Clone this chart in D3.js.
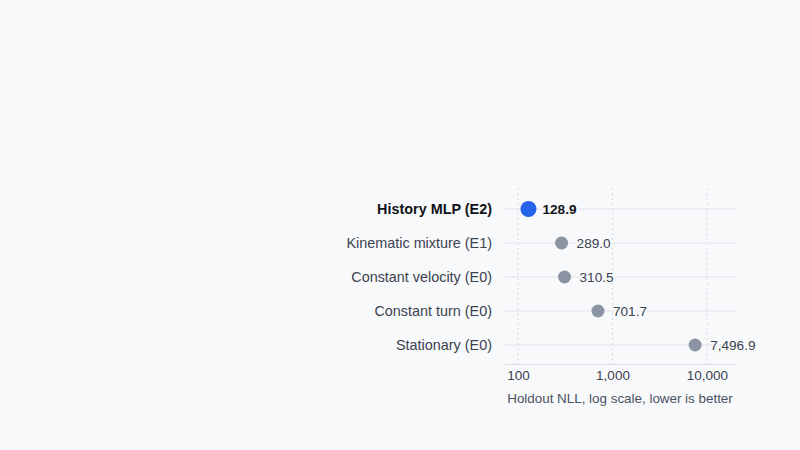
<!DOCTYPE html>
<html>
<head>
<meta charset="utf-8">
<script src="https://cdn.jsdelivr.net/npm/d3@7"></script>
<style>
  html, body { margin: 0; padding: 0; background: #f8f9fb; }
  svg { display: block; font-family: "Liberation Sans", Arial, sans-serif; }
</style>
</head>
<body>
<div id="chart"></div>
<script>
// Holdout NLL per model, log scale

// data
var models = ["History MLP (E2)", "Kinematic mixture (E1)", "Constant velocity (E0)", "Constant turn (E0)", "Stationary (E0)"];
var nllValues = [128.9, 289.0, 310.5, 701.7, 7496.9];
var highlighted = [true, false, false, false, false];
var tickValues = [100, 1000, 10000];
var axisTitle = "Holdout NLL, log scale, lower is better";

// global variables
var width = 800;
var height = 450;
var margin = { top: 192, right: 64, bottom: 86, left: 504 };
var axisY = 364;
var bg = "#f8f9fb";

var rows = models.map(function(m, i) {
    return { name: m, value: nllValues[i], hi: highlighted[i] };
});

var svg = d3.select("#chart")
            .append("svg")
            .attr("width", width)
            .attr("height", height);

svg.append("rect").attr("width", width).attr("height", height).attr("fill", bg);

var x = d3.scaleLog()
          .domain([71, 20300])
          .range([margin.left, width - margin.right]);

var y = d3.scalePoint()
          .domain(models)
          .range([margin.top, 362])
          .padding(0.5);

// vertical dotted gridlines
svg.selectAll(".vgrid")
   .data(tickValues)
   .enter()
   .append("line")
   .attr("class", "vgrid")
   .attr("x1", function(d) { return x(d); })
   .attr("x2", function(d) { return x(d); })
   .attr("y1", 188)
   .attr("y2", axisY)
   .attr("stroke", "#d4d8de")
   .attr("stroke-dasharray", "2,3");

// row lines
svg.selectAll(".hgrid")
   .data(rows)
   .enter()
   .append("line")
   .attr("class", "hgrid")
   .attr("x1", margin.left)
   .attr("x2", width - margin.right)
   .attr("y1", function(d) { return y(d.name); })
   .attr("y2", function(d) { return y(d.name); })
   .attr("stroke", "#e2e5ea")
   .attr("stroke-width", 1);

// x axis
var xAxis = d3.axisBottom(x)
              .tickValues(tickValues)
              .tickFormat(d3.format(","))
              .tickSize(0)
              .tickPadding(6);

var gx = svg.append("g")
            .attr("transform", "translate(0," + axisY + ")")
            .call(xAxis);
gx.select(".domain").attr("stroke", "#d9dce1");
gx.selectAll("text").attr("font-size", 13.5).attr("fill", "#3b4250")
  .attr("font-family", "Liberation Sans, Arial, sans-serif");

svg.append("text")
   .attr("x", (margin.left + width - margin.right) / 2)
   .attr("y", 403)
   .attr("text-anchor", "middle")
   .attr("font-size", 13.4)
   .attr("fill", "#4a5160")
   .text(axisTitle);

// category labels
svg.selectAll(".cat")
   .data(rows)
   .enter()
   .append("text")
   .attr("class", "cat")
   .attr("x", 492)
   .attr("y", function(d) { return y(d.name); })
   .attr("dy", "0.35em")
   .attr("text-anchor", "end")
   .attr("font-size", 14.4)
   .attr("font-weight", function(d) { return d.hi ? "bold" : "normal"; })
   .attr("fill", function(d) { return d.hi ? "#111318" : "#3b4250"; })
   .text(function(d) { return d.name; });

// dots
svg.selectAll(".dot")
   .data(rows)
   .enter()
   .append("circle")
   .attr("class", "dot")
   .attr("cx", function(d) { return x(d.value); })
   .attr("cy", function(d) { return y(d.name); })
   .attr("r", function(d) { return d.hi ? 8 : 6.5; })
   .attr("fill", function(d) { return d.hi ? "#2563eb" : "#8b94a3"; });

// value labels (halo to cut the row line)
svg.selectAll(".val")
   .data(rows)
   .enter()
   .append("text")
   .attr("class", "val")
   .attr("x", function(d) { return x(d.value) + (d.hi ? 14 : 15); })
   .attr("y", function(d) { return y(d.name); })
   .attr("dy", "0.35em")
   .attr("font-size", 13.6)
   .attr("font-weight", function(d) { return d.hi ? "bold" : "normal"; })
   .attr("fill", function(d) { return d.hi ? "#111318" : "#3b4250"; })
   .attr("stroke", bg)
   .attr("stroke-width", 4)
   .attr("paint-order", "stroke")
   .text(function(d) { return d3.format(",.1f")(d.value); });
</script>
</body>
</html>
